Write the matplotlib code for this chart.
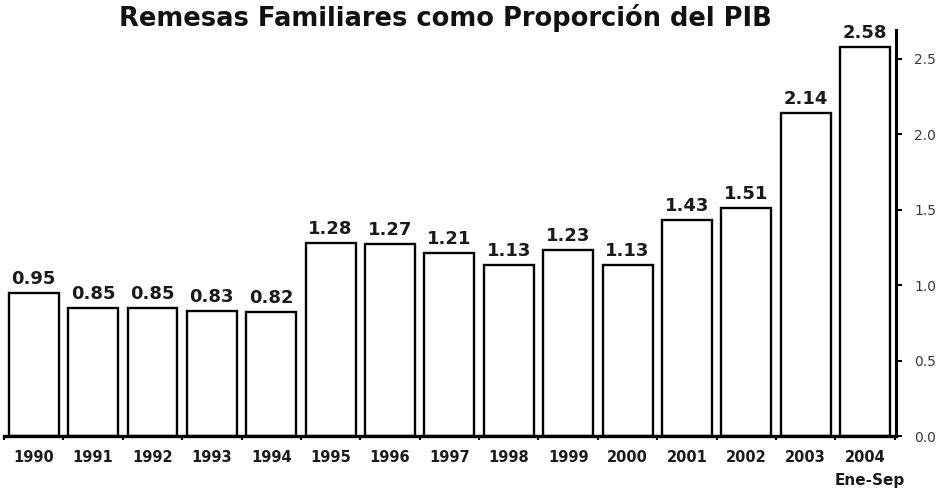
import matplotlib
matplotlib.use("Agg")
import matplotlib.pyplot as plt
import numpy as np

years = ["1990", "1991", "1992", "1993", "1994", "1995", "1996", "1997",
         "1998", "1999", "2000", "2001", "2002", "2003", "2004"]
values = [0.95, 0.85, 0.85, 0.83, 0.82, 1.28, 1.27, 1.21, 1.13, 1.23,
          1.13, 1.43, 1.51, 2.14, 2.58]
yticks = [0.0, 0.5, 1.0, 1.5, 2.0, 2.5]
title = "Remesas Familiares como Proporción del PIB"
last_note = "Ene-Sep"

plt.rcParams['font.family'] = ['DejaVu Sans']

fig = plt.figure(figsize=(9.44, 4.91), dpi=100)
ax = fig.add_axes([4/944, 1 - 436/491, (896 - 4)/944, (436 - 30)/491])

x = np.arange(len(years))
ax.bar(x, values, width=0.84, color='white', edgecolor='black', linewidth=1.7)
for xi, v in zip(x, values):
    ax.annotate(f"{v:.2f}", xy=(xi, v), xytext=(0, 6.5), textcoords='offset points',
                ha='center', va='baseline', fontsize=13, fontweight='bold',
                color='#1a1a1a')

ax.set_xlim(-0.47, len(years) - 0.48)
ax.set_ylim(0, 2.69)

ax.spines['top'].set_visible(False)
ax.spines['left'].set_visible(False)
ax.spines['right'].set_linewidth(2.2)
ax.spines['bottom'].set_linewidth(2.4)

ax.yaxis.tick_right()
ax.set_yticks(yticks)
ax.set_yticklabels([f"{t:.1f}" for t in yticks], fontsize=10, color='#3a3a3a')
ax.tick_params(axis='y', direction='out', length=4, width=1.5, pad=9)

ax.set_xticks(x)
ax.set_xticklabels(years, fontsize=10.5, fontweight='bold', color='#1a1a1a')
ax.tick_params(axis='x', length=0, pad=10)
ax.set_xticks(np.arange(len(years) + 1) - 0.5, minor=True)
ax.tick_params(axis='x', which='minor', direction='out', length=3, width=1.5)

ax.annotate(last_note, xy=(x[-1], 0), xycoords=('data', 'axes fraction'),
            xytext=(3, -32), textcoords='offset points', ha='center', va='center',
            fontsize=11, fontweight='bold', color='#1a1a1a')

fig.text(445/944, 1 - 26/491, title, ha='center', va='baseline',
         fontsize=18.5, fontweight='bold', color='#111111')

fig.savefig("out.png", dpi=100, facecolor='white')
